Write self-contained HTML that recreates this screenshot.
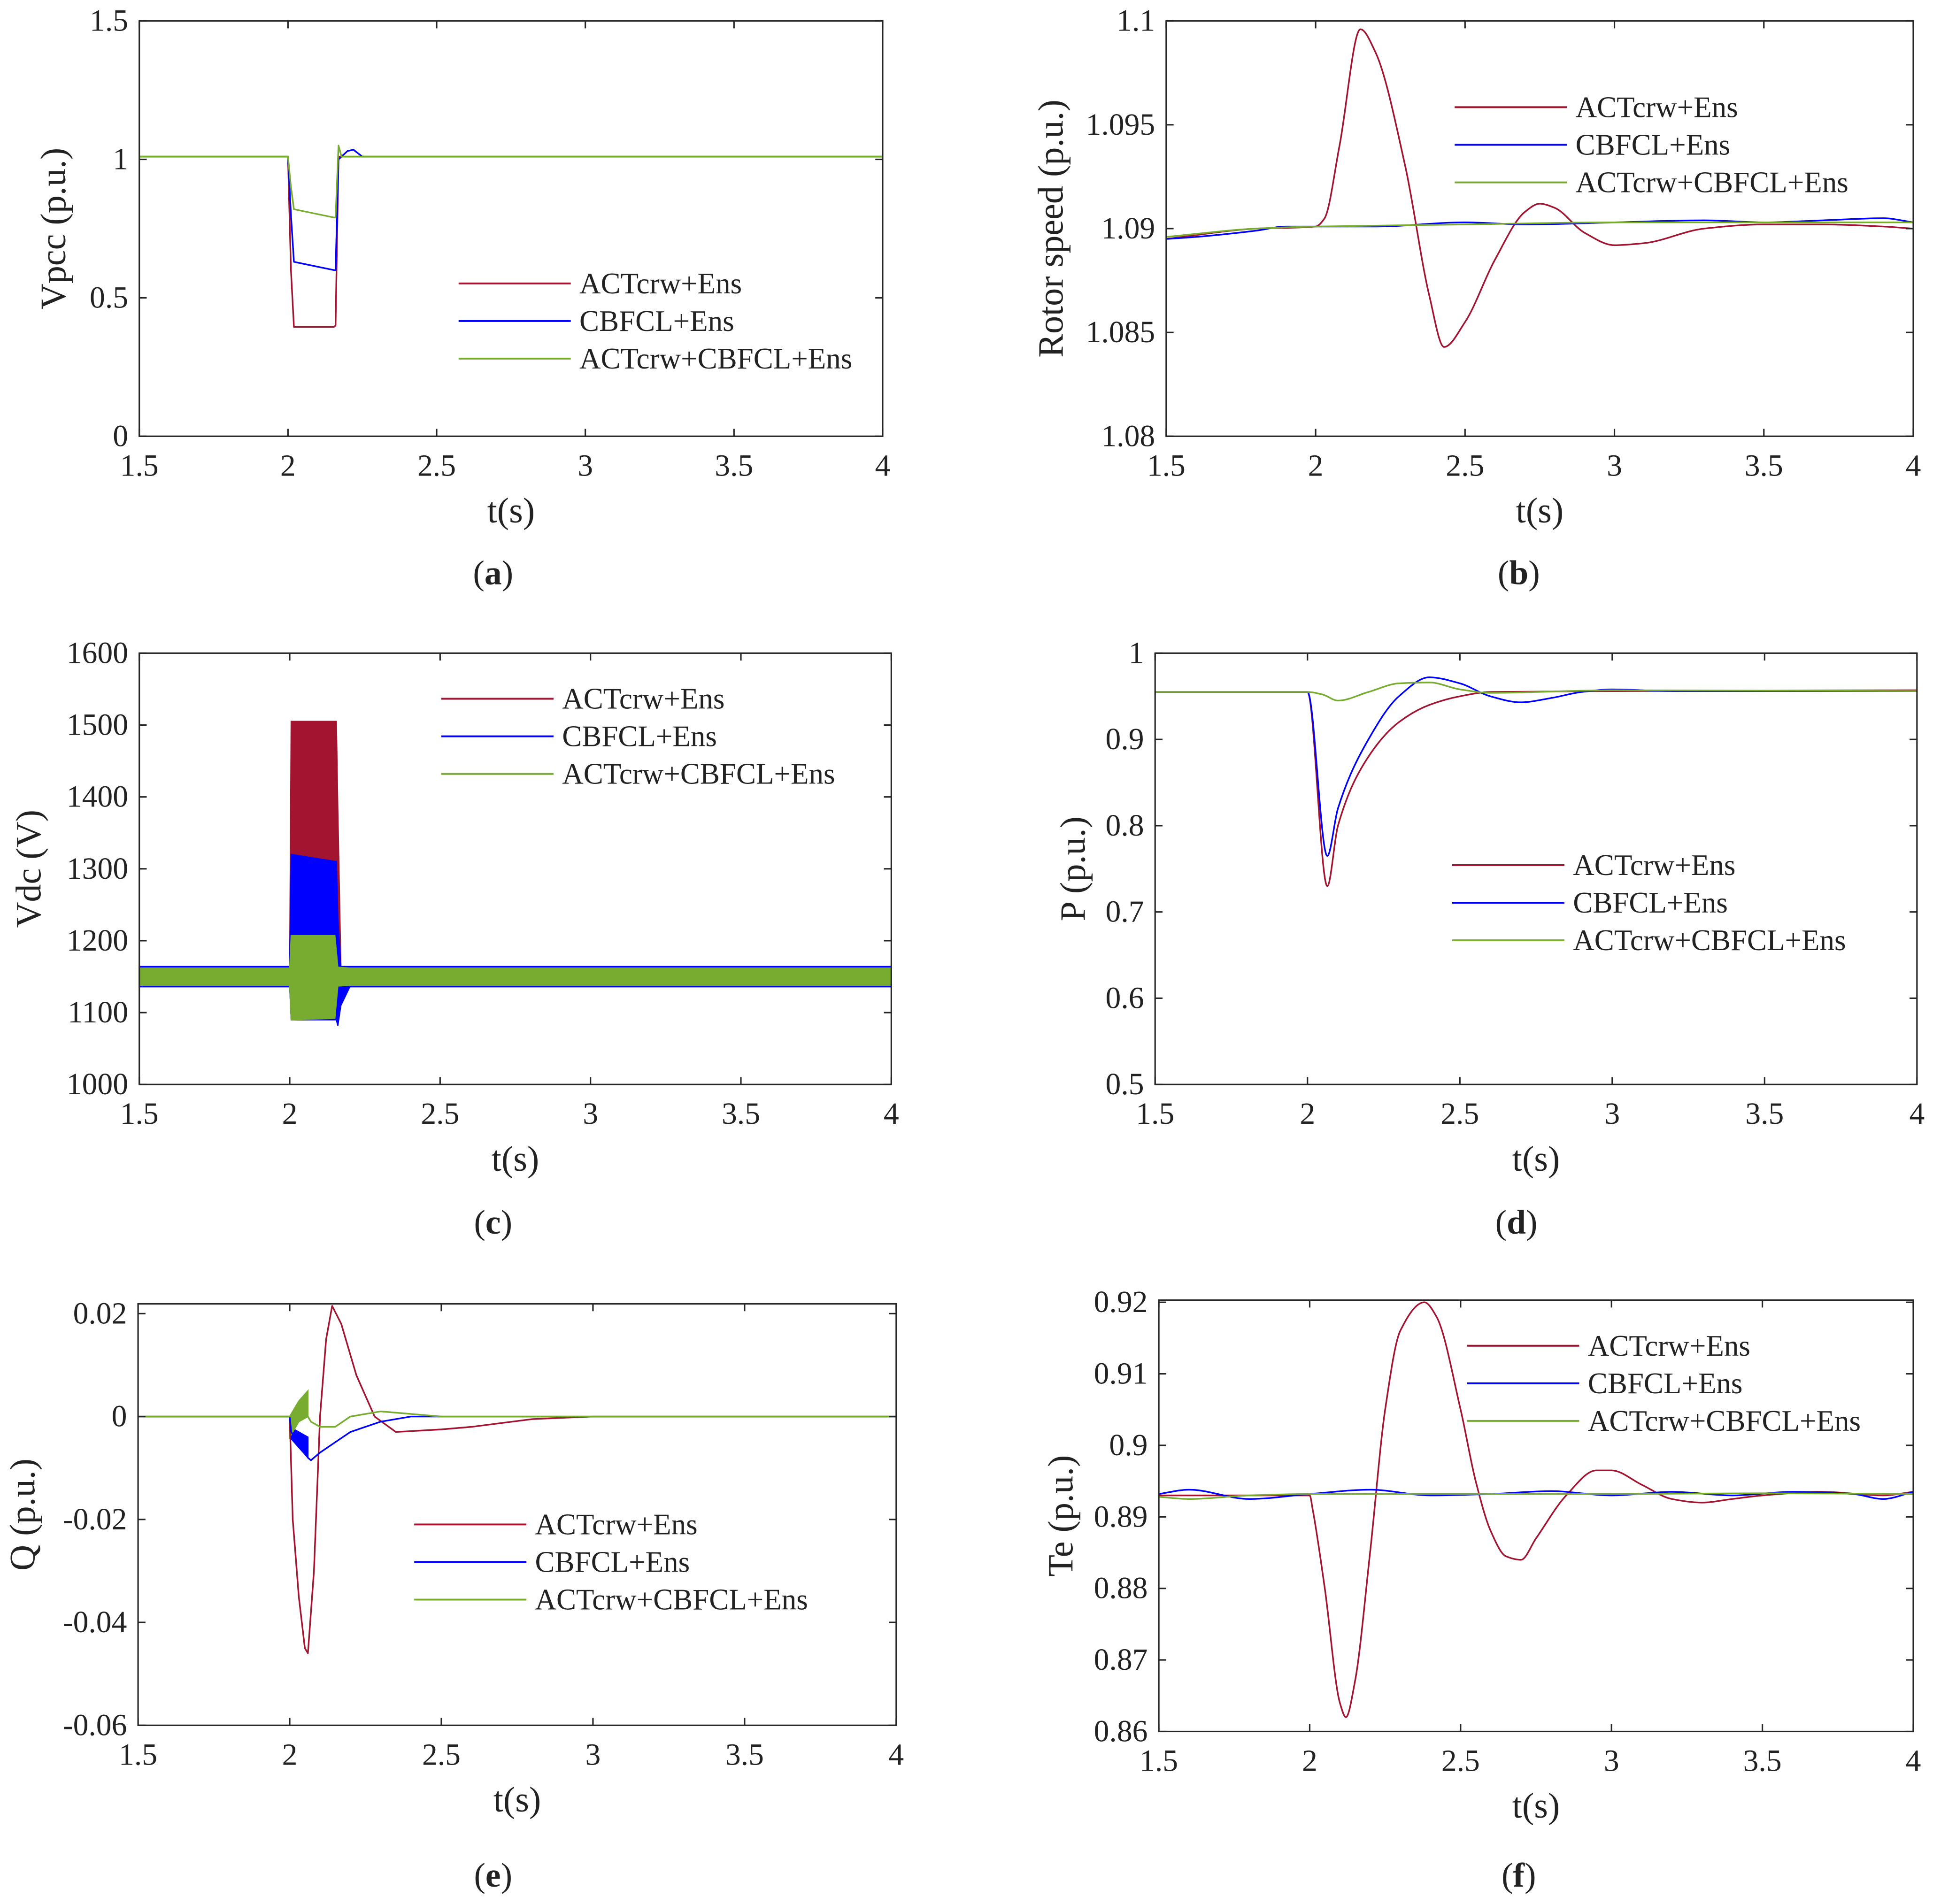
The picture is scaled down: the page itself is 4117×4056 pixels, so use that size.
<!DOCTYPE html>
<html><head><meta charset="utf-8"><style>
html,body{margin:0;padding:0;background:#fff;}
svg{display:block;}
text{font-family:"Liberation Serif",serif;fill:#222;}
</style></head><body>
<svg id="fig" width="4117" height="4056" viewBox="0 0 1568 1545" preserveAspectRatio="none" xmlns="http://www.w3.org/2000/svg" font-family="Liberation Serif, serif"></svg>
<script>
// ---------- (a) Vpcc ----------
const aRedT=[1.5,2.0,2.01,2.02,2.155,2.16,2.17,4];
const aRedV=[1.01,1.01,0.6,0.395,0.395,0.4,1.01,1.01];
const aBlueT=[1.5,2.0,2.01,2.02,2.155,2.16,2.17,2.2,2.22,2.25,4];
const aBlueV=[1.01,1.01,0.8,0.63,0.6,0.6,1.0,1.03,1.035,1.01,1.01];
const aGreenT=[1.5,2.0,2.01,2.02,2.155,2.16,2.17,2.18,4];
const aGreenV=[1.01,1.01,0.9,0.82,0.79,0.79,1.05,1.01,1.01];
const aYTicks=[0,0.5,1,1.5];
// ---------- (b) Rotor speed ----------
const bRedT=[1.5,1.8,2.0,2.03,2.08,2.15,2.2,2.3,2.38,2.43,2.5,2.6,2.7,2.75,2.8,2.9,3.0,3.1,3.3,3.5,3.7,3.9,4.0];
const bRedV=[1.0895,1.09,1.0901,1.0905,1.094,1.0996,1.0985,1.093,1.0868,1.0843,1.0855,1.0885,1.0908,1.0912,1.091,1.0898,1.0892,1.0893,1.09,1.0902,1.0902,1.0901,1.09];
const bBlueT=[1.5,1.6,1.8,1.9,2.0,2.2,2.5,2.7,3.0,3.3,3.5,3.7,3.9,4.0];
const bBlueV=[1.0895,1.0896,1.0899,1.0901,1.0901,1.0901,1.0903,1.0902,1.0903,1.0904,1.0903,1.0904,1.0905,1.0903];
const bGreenT=[1.5,1.8,2.0,2.5,3.0,3.5,4.0];
const bGreenV=[1.0896,1.09,1.0901,1.0902,1.0903,1.0903,1.0903];
const bYTicks=[1.08,1.085,1.09,1.095,1.1];
// ---------- (c) Vdc (envelopes) ----------
const cRedT=[1.5,2.0,2.005,2.155,2.16,2.17,2.2,4];
const cRedLo=[1136,1136,1100,1100,1095,1120,1136,1136];
const cRedHi=[1164,1164,1505,1505,1380,1164,1164,1164];
const cBlueT=[1.5,2.0,2.005,2.155,2.16,2.17,2.2,4];
const cBlueLo=[1136,1136,1090,1090,1082,1110,1136,1136];
const cBlueHi=[1164,1164,1320,1310,1230,1164,1164,1164];
const cGreenT=[1.5,2.0,2.005,2.15,2.16,2.2,4];
const cGreenLo=[1138,1138,1090,1092,1137,1138,1138];
const cGreenHi=[1162,1162,1207,1207,1163,1162,1162];
const cYTicks=[1000,1100,1200,1300,1400,1500,1600];
// ---------- (d) P ----------
const dRedT=[1.5,2.0,2.065,2.1,2.2,2.3,2.4,2.5,2.6,3.0,4];
const dRedV=[0.955,0.955,0.73,0.8,0.88,0.92,0.94,0.95,0.955,0.956,0.957];
const dBlueT=[1.5,2.0,2.065,2.1,2.2,2.3,2.4,2.5,2.6,2.7,2.8,2.9,3.0,3.2,4];
const dBlueV=[0.955,0.955,0.765,0.82,0.9,0.95,0.972,0.965,0.95,0.943,0.948,0.955,0.958,0.956,0.956];
const dGreenT=[1.5,2.0,2.05,2.1,2.2,2.3,2.4,2.5,2.6,3.0,4];
const dGreenV=[0.955,0.955,0.952,0.945,0.955,0.965,0.966,0.958,0.954,0.957,0.956];
const dYTicks=[0.5,0.6,0.7,0.8,0.9,1];
// ---------- (e) Q ----------
const eRedT=[1.5,2.0,2.01,2.03,2.05,2.06,2.08,2.1,2.12,2.14,2.17,2.22,2.28,2.35,2.5,2.6,2.8,3.0,4];
const eRedV=[0,0,-0.02,-0.035,-0.045,-0.046,-0.03,0,0.015,0.0215,0.018,0.008,0,-0.003,-0.0025,-0.002,-0.0005,0,0];
const eBlueT=[1.5,2.0,2.005,2.06,2.07,2.1,2.15,2.2,2.3,2.4,2.5,4];
const eBlueV=[0,0,-0.003,-0.008,-0.0085,-0.007,-0.005,-0.003,-0.001,0,0,0];
const eGreenT=[1.5,2.0,2.06,2.07,2.1,2.15,2.2,2.3,2.4,2.5,4];
const eGreenV=[0,0,0.0,-0.001,-0.002,-0.002,0,0.001,0.0005,0,0];
const eBandT=[2.0,2.03,2.06];
const eGreenBandLo=[-0.004,-0.001,0.0];
const eGreenBandHi=[0,0.003,0.005];
const eBlueBandLo=[-0.004,-0.006,-0.008];
const eBlueBandHi=[-0.002,-0.003,-0.004];
const eYTicks=[-0.06,-0.04,-0.02,0,0.02];
// ---------- (f) Te ----------
const fRedT=[1.5,2.0,2.01,2.05,2.1,2.12,2.15,2.2,2.25,2.3,2.38,2.42,2.5,2.55,2.6,2.65,2.7,2.75,2.85,2.95,3.0,3.1,3.2,3.3,3.4,3.5,3.7,3.9,4.0];
const fRedV=[0.893,0.893,0.891,0.88,0.864,0.862,0.867,0.885,0.905,0.916,0.92,0.918,0.905,0.895,0.888,0.8845,0.884,0.887,0.893,0.8965,0.8965,0.8945,0.8925,0.892,0.8925,0.893,0.8935,0.893,0.8935];
const fBlueT=[1.5,1.6,1.8,2.0,2.2,2.4,2.6,2.8,3.0,3.2,3.4,3.6,3.8,3.9,4.0];
const fBlueV=[0.8932,0.8938,0.8925,0.8932,0.8938,0.893,0.8932,0.8936,0.893,0.8935,0.893,0.8935,0.8932,0.8925,0.8935];
const fGreenT=[1.5,1.6,1.8,2.0,2.5,3.0,3.5,4.0];
const fGreenV=[0.8928,0.8925,0.893,0.8932,0.8932,0.8932,0.8933,0.8932];
const fYTicks=[0.86,0.87,0.88,0.89,0.9,0.91,0.92];

const xTicks=[1.5,2,2.5,3,3.5,4];
const xTickLabels=["1.5","2","2.5","3","3.5","4"];
const legendLabels=["ACTcrw+Ens","CBFCL+Ens","ACTcrw+CBFCL+Ens"];
const RED="#a2142f",BLUE="#0000ff",GREEN="#77ac30";
const NS="http://www.w3.org/2000/svg";
const svg=document.getElementById('fig');
function mk(tag,attrs,parent){const e=document.createElementNS(NS,tag);for(const k in attrs)e.setAttribute(k,attrs[k]);(parent||svg).appendChild(e);return e;}
// monotone cubic (Fritsch-Carlson) in screen coords
function smoothPath(P){
  const n=P.length, d=[], m=[];
  for(let i=0;i<n-1;i++) d.push((P[i+1][1]-P[i][1])/(P[i+1][0]-P[i][0]));
  m[0]=d[0]; m[n-1]=d[n-2];
  for(let i=1;i<n-1;i++){
    if(d[i-1]*d[i]<=0) m[i]=0;
    else { const h0=P[i][0]-P[i-1][0], h1=P[i+1][0]-P[i][0];
      m[i]=3*(h0+h1)/((2*h1+h0)/d[i-1]+(h1+2*h0)/d[i]); }
  }
  let s='M'+P[0][0]+','+P[0][1];
  for(let i=0;i<n-1;i++){
    const h=(P[i+1][0]-P[i][0])/3;
    s+=' C'+(P[i][0]+h)+','+(P[i][1]+m[i]*h)+' '+(P[i+1][0]-h)+','+(P[i+1][1]-m[i+1]*h)+' '+P[i+1][0]+','+P[i+1][1];
  }
  return s;
}

function chart(c){
  const g=mk('g',{});
  
  
  const sx=t=>c.x0+(t-1.5)/2.5*(c.x1-c.x0);
  const sy=v=>c.y1-(v-c.ymin)/(c.ymax-c.ymin)*(c.y1-c.y0);
  (c.bands||[]).forEach(b=>{
    let pts=b.t.map((t,i)=>sx(t)+','+sy(b.hi[i]));
    pts=pts.concat(b.t.map((t,i)=>sx(t)+','+sy(b.lo[i])).reverse());
    const p=mk('polygon',{points:pts.join(' '),fill:b.color,stroke:b.color,'stroke-width':1},g);
    
    
  });
  c.series.forEach(s=>{
    let p;
    if(c.smooth){
      p=mk('path',{d:smoothPath(s.t.map((t,i)=>[sx(t),sy(s.v[i])])),fill:'none',stroke:s.color,'stroke-width':1.3,'stroke-linejoin':'round'},g);
    } else {
      p=mk('polyline',{points:s.t.map((t,i)=>sx(t)+','+sy(s.v[i])).join(' '),fill:'none',stroke:s.color,'stroke-width':1.3,'stroke-linejoin':'round'},g);
    }
    
    
  });
  const fr=mk('rect',{x:c.x0,y:c.y0,width:c.x1-c.x0,height:c.y1-c.y0,fill:'none',stroke:'#262626','stroke-width':1.2},g);
  
  
  xTicks.forEach((t,i)=>{
    const x=sx(t);
    mk('line',{x1:x,y1:c.y1,x2:x,y2:c.y1-6,stroke:'#262626','stroke-width':1.2},g);
    mk('line',{x1:x,y1:c.y0,x2:x,y2:c.y0+6,stroke:'#262626','stroke-width':1.2},g);
    const tx=mk('text',{x:x,y:c.y1+32,'text-anchor':'middle','font-size':25,'font-family':'Liberation Serif, serif'},g);
    tx.textContent=xTickLabels[i];
    
    
  });
  c.yTicks.forEach(v=>{
    const y=sy(v);
    mk('line',{x1:c.x0,y1:y,x2:c.x0+6,y2:y,stroke:'#262626','stroke-width':1.2},g);
    mk('line',{x1:c.x1,y1:y,x2:c.x1-6,y2:y,stroke:'#262626','stroke-width':1.2},g);
    const tx=mk('text',{x:c.x0-9,y:y+8,'text-anchor':'end','font-size':25,'font-family':'Liberation Serif, serif'},g);
    tx.textContent=String(v);
    
    
  });
  const xl=mk('text',{x:(c.x0+c.x1)/2,y:c.y1+70,'text-anchor':'middle','font-size':29,'font-family':'Liberation Serif, serif'},g);
  xl.textContent='t(s)';
  
  
  const yl=mk('text',{x:0,y:0,'text-anchor':'middle','font-size':29,'font-family':'Liberation Serif, serif',transform:`translate(${c.ylx},${(c.y0+c.y1)/2}) rotate(-90)`},g);
  yl.textContent=c.ylabel;
  
  
  const cap=mk('text',{x:c.capx,y:c.capy,'text-anchor':'middle','font-size':28,'font-family':'Liberation Serif, serif'},g);
  cap.innerHTML='(<tspan font-weight="bold">'+c.cap+'</tspan>)';
  
  
  [RED,BLUE,GREEN].forEach((col,i)=>{
    const y=c.leg[1]+i*30.5;
    const ln=mk('line',{x1:c.leg[0],y1:y,x2:c.leg[0]+91,y2:y,stroke:col,'stroke-width':1.5},g);
    
    
    const tx=mk('text',{x:c.leg[0]+98,y:y+8,'font-size':24,'font-family':'Liberation Serif, serif'},g);
    tx.textContent=legendLabels[i];
    
    
  });
}

chart({name:'chart-a-vpcc',x0:113,x1:716,y0:17,y1:354,ymin:0,ymax:1.5,yTicks:aYTicks,ylabel:'Vpcc (p.u.)',ylx:53,cap:'a',capx:400,capy:474,leg:[372,230],
  series:[{name:'series-actcrw',t:aRedT,v:aRedV,color:RED},{name:'series-cbfcl',t:aBlueT,v:aBlueV,color:BLUE},{name:'series-combined',t:aGreenT,v:aGreenV,color:GREEN}]});
chart({name:'chart-b-rotor-speed',smooth:true,x0:946,x1:1552,y0:17,y1:354,ymin:1.08,ymax:1.1,yTicks:bYTicks,ylabel:'Rotor speed (p.u.)',ylx:862,cap:'b',capx:1232,capy:474,leg:[1180,87],
  series:[{name:'series-actcrw',t:bRedT,v:bRedV,color:RED},{name:'series-cbfcl',t:bBlueT,v:bBlueV,color:BLUE},{name:'series-combined',t:bGreenT,v:bGreenV,color:GREEN}]});
chart({name:'chart-c-vdc',x0:113,x1:723,y0:530,y1:880,ymin:1000,ymax:1600,yTicks:cYTicks,ylabel:'Vdc (V)',ylx:33,cap:'c',capx:400,capy:1001,leg:[358,567],
  bands:[{name:'band-actcrw',t:cRedT,lo:cRedLo,hi:cRedHi,color:RED},{name:'band-cbfcl',t:cBlueT,lo:cBlueLo,hi:cBlueHi,color:BLUE},{name:'band-combined',t:cGreenT,lo:cGreenLo,hi:cGreenHi,color:GREEN}],series:[]});
chart({name:'chart-d-p',smooth:true,x0:937,x1:1555,y0:530,y1:880,ymin:0.5,ymax:1,yTicks:dYTicks,ylabel:'P (p.u.)',ylx:880,cap:'d',capx:1230,capy:1001,leg:[1178,702],
  series:[{name:'series-actcrw',t:dRedT,v:dRedV,color:RED},{name:'series-cbfcl',t:dBlueT,v:dBlueV,color:BLUE},{name:'series-combined',t:dGreenT,v:dGreenV,color:GREEN}]});
chart({name:'chart-e-q',x0:112,x1:727,y0:1058,y1:1400,ymin:-0.06,ymax:0.0219,yTicks:eYTicks,ylabel:'Q (p.u.)',ylx:28,cap:'e',capx:400,capy:1531,leg:[336,1237],
  bands:[{name:'band-cbfcl',t:eBandT,lo:eBlueBandLo,hi:eBlueBandHi,color:BLUE},{name:'band-combined',t:eBandT,lo:eGreenBandLo,hi:eGreenBandHi,color:GREEN}],
  series:[{name:'series-actcrw',t:eRedT,v:eRedV,color:RED},{name:'series-cbfcl',t:eBlueT,v:eBlueV,color:BLUE},{name:'series-combined',t:eGreenT,v:eGreenV,color:GREEN}]});
chart({name:'chart-f-te',smooth:true,x0:940,x1:1552,y0:1055,y1:1405,ymin:0.86,ymax:0.9203,yTicks:fYTicks,ylabel:'Te (p.u.)',ylx:870,cap:'f',capx:1232,capy:1531,leg:[1190,1092],
  series:[{name:'series-actcrw',t:fRedT,v:fRedV,color:RED},{name:'series-cbfcl',t:fBlueT,v:fBlueV,color:BLUE},{name:'series-combined',t:fGreenT,v:fGreenV,color:GREEN}]});
</script>
</body></html>
